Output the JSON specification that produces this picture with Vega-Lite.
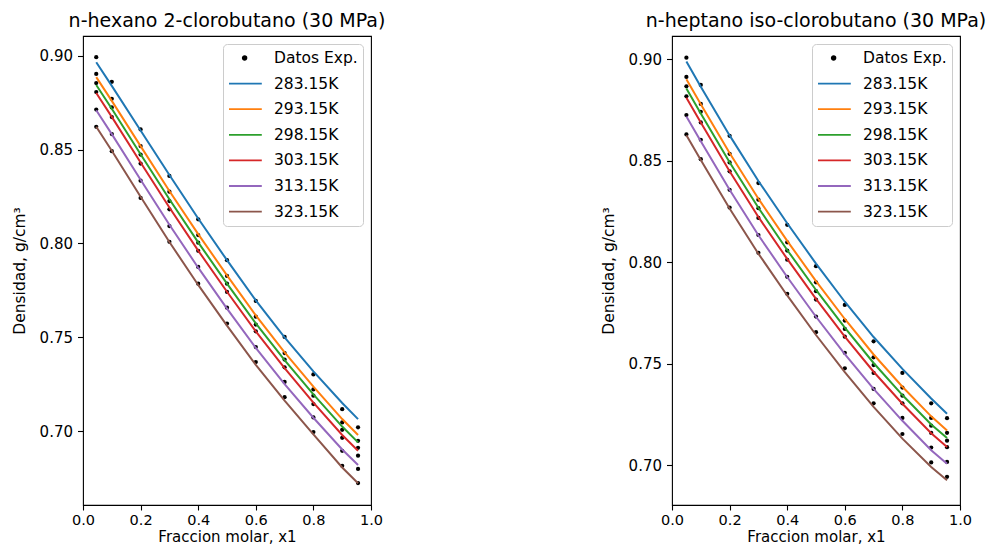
{
  "$schema": "https://vega.github.io/schema/vega-lite/v6.json",
  "padding": {"left": 11, "top": 11, "right": 0, "bottom": 0},
  "bounds": "flush",
  "spacing": 301,
  "config": {
    "font": "DejaVu Sans",
    "view": {"stroke": "black", "strokeWidth": 1.1},
    "axis": {"grid": false, "domain": false, "labelFlush": false, "tickColor": "black", "tickSize": 5.5, "tickWidth": 1.1, "labelColor": "black", "labelFontSize": 15, "titleFontSize": 15.5, "titleFontWeight": "normal", "titleColor": "black", "labelPadding": 5, "labelFont": "DejaVu Sans", "titleFont": "DejaVu Sans"},
    "axisY": {"titlePadding": 12},
    "axisX": {"titlePadding": 3, "labelPadding": 3, "tickSize": 5, "labelFontSize": 14.5, "titleFontSize": 15},
    "title": {"fontSize": 19, "fontWeight": "normal", "color": "black", "offset": 5, "font": "DejaVu Sans"},
    "legend": {"labelFont": "DejaVu Sans"}
  },
  "resolve": {"scale": {"color": "independent"}, "legend": {"color": "independent"}},
  "datasets": {
    "hx_exp": [
      {"x":0.046,"T":"283.15K","d":0.8993},{"x":0.046,"T":"293.15K","d":0.8904},{"x":0.046,"T":"298.15K","d":0.8855},{"x":0.046,"T":"303.15K","d":0.8807},{"x":0.046,"T":"313.15K","d":0.8714},{"x":0.046,"T":"323.15K","d":0.8622},
      {"x":0.1,"T":"283.15K","d":0.8862},{"x":0.1,"T":"293.15K","d":0.8771},{"x":0.1,"T":"298.15K","d":0.8725},{"x":0.1,"T":"303.15K","d":0.8674},{"x":0.1,"T":"313.15K","d":0.8583},{"x":0.1,"T":"323.15K","d":0.8492},
      {"x":0.2,"T":"283.15K","d":0.8608},{"x":0.2,"T":"293.15K","d":0.8519},{"x":0.2,"T":"298.15K","d":0.8474},{"x":0.2,"T":"303.15K","d":0.8426},{"x":0.2,"T":"313.15K","d":0.8335},{"x":0.2,"T":"323.15K","d":0.8243},
      {"x":0.3,"T":"283.15K","d":0.8360},{"x":0.3,"T":"293.15K","d":0.8276},{"x":0.3,"T":"298.15K","d":0.8226},{"x":0.3,"T":"303.15K","d":0.8182},{"x":0.3,"T":"313.15K","d":0.8093},{"x":0.3,"T":"323.15K","d":0.8009},
      {"x":0.4,"T":"283.15K","d":0.8129},{"x":0.4,"T":"293.15K","d":0.8045},{"x":0.4,"T":"298.15K","d":0.8004},{"x":0.4,"T":"303.15K","d":0.7961},{"x":0.4,"T":"313.15K","d":0.7875},{"x":0.4,"T":"323.15K","d":0.7786},
      {"x":0.5,"T":"283.15K","d":0.7911},{"x":0.5,"T":"293.15K","d":0.7827},{"x":0.5,"T":"298.15K","d":0.7786},{"x":0.5,"T":"303.15K","d":0.7742},{"x":0.5,"T":"313.15K","d":0.7658},{"x":0.5,"T":"323.15K","d":0.7573},
      {"x":0.6,"T":"283.15K","d":0.7694},{"x":0.6,"T":"293.15K","d":0.7610},{"x":0.6,"T":"298.15K","d":0.7568},{"x":0.6,"T":"303.15K","d":0.7532},{"x":0.6,"T":"313.15K","d":0.7448},{"x":0.6,"T":"323.15K","d":0.7368},
      {"x":0.7,"T":"283.15K","d":0.7502},{"x":0.7,"T":"293.15K","d":0.7416},{"x":0.7,"T":"298.15K","d":0.7381},{"x":0.7,"T":"303.15K","d":0.7340},{"x":0.7,"T":"313.15K","d":0.7262},{"x":0.7,"T":"323.15K","d":0.7181},
      {"x":0.8,"T":"283.15K","d":0.7302},{"x":0.8,"T":"293.15K","d":0.7222},{"x":0.8,"T":"298.15K","d":0.7189},{"x":0.8,"T":"303.15K","d":0.7144},{"x":0.8,"T":"313.15K","d":0.7073},{"x":0.8,"T":"323.15K","d":0.6995},
      {"x":0.9,"T":"283.15K","d":0.7117},{"x":0.9,"T":"293.15K","d":0.7046},{"x":0.9,"T":"298.15K","d":0.7007},{"x":0.9,"T":"303.15K","d":0.6964},{"x":0.9,"T":"313.15K","d":0.6895},{"x":0.9,"T":"323.15K","d":0.6815},
      {"x":0.955,"T":"283.15K","d":0.7020},{"x":0.955,"T":"293.15K","d":0.6948},{"x":0.955,"T":"298.15K","d":0.6911},{"x":0.955,"T":"303.15K","d":0.6869},{"x":0.955,"T":"313.15K","d":0.6798},{"x":0.955,"T":"323.15K","d":0.6723}
    ],
    "hx_fit": [
      {"x":0.046,"T":"283.15K","d":0.8966},{"x":0.1,"T":"283.15K","d":0.8840},{"x":0.2,"T":"283.15K","d":0.8602},{"x":0.3,"T":"283.15K","d":0.8365},{"x":0.4,"T":"283.15K","d":0.8133},{"x":0.5,"T":"283.15K","d":0.7911},{"x":0.6,"T":"283.15K","d":0.7697},{"x":0.7,"T":"283.15K","d":0.7500},{"x":0.8,"T":"283.15K","d":0.7318},{"x":0.9,"T":"283.15K","d":0.7150},{"x":0.955,"T":"283.15K","d":0.7064},
      {"x":0.046,"T":"293.15K","d":0.8887},{"x":0.1,"T":"293.15K","d":0.8760},{"x":0.2,"T":"293.15K","d":0.8519},{"x":0.3,"T":"293.15K","d":0.8280},{"x":0.4,"T":"293.15K","d":0.8050},{"x":0.5,"T":"293.15K","d":0.7830},{"x":0.6,"T":"293.15K","d":0.7617},{"x":0.7,"T":"293.15K","d":0.7420},{"x":0.8,"T":"293.15K","d":0.7237},{"x":0.9,"T":"293.15K","d":0.7064},{"x":0.955,"T":"293.15K","d":0.6979},
      {"x":0.046,"T":"298.15K","d":0.8845},{"x":0.1,"T":"298.15K","d":0.8718},{"x":0.2,"T":"298.15K","d":0.8476},{"x":0.3,"T":"298.15K","d":0.8236},{"x":0.4,"T":"298.15K","d":0.8006},{"x":0.5,"T":"298.15K","d":0.7786},{"x":0.6,"T":"298.15K","d":0.7574},{"x":0.7,"T":"298.15K","d":0.7378},{"x":0.8,"T":"298.15K","d":0.7196},{"x":0.9,"T":"298.15K","d":0.7024},{"x":0.955,"T":"298.15K","d":0.6940},
      {"x":0.046,"T":"303.15K","d":0.8802},{"x":0.1,"T":"303.15K","d":0.8675},{"x":0.2,"T":"303.15K","d":0.8432},{"x":0.3,"T":"303.15K","d":0.8192},{"x":0.4,"T":"303.15K","d":0.7962},{"x":0.5,"T":"303.15K","d":0.7743},{"x":0.6,"T":"303.15K","d":0.7531},{"x":0.7,"T":"303.15K","d":0.7336},{"x":0.8,"T":"303.15K","d":0.7152},{"x":0.9,"T":"303.15K","d":0.6979},{"x":0.955,"T":"303.15K","d":0.6895},
      {"x":0.046,"T":"313.15K","d":0.8710},{"x":0.1,"T":"313.15K","d":0.8583},{"x":0.2,"T":"313.15K","d":0.8340},{"x":0.3,"T":"313.15K","d":0.8100},{"x":0.4,"T":"313.15K","d":0.7871},{"x":0.5,"T":"313.15K","d":0.7653},{"x":0.6,"T":"313.15K","d":0.7443},{"x":0.7,"T":"313.15K","d":0.7250},{"x":0.8,"T":"313.15K","d":0.7071},{"x":0.9,"T":"313.15K","d":0.6902},{"x":0.955,"T":"313.15K","d":0.6819},
      {"x":0.046,"T":"323.15K","d":0.8622},{"x":0.1,"T":"323.15K","d":0.8494},{"x":0.2,"T":"323.15K","d":0.8249},{"x":0.3,"T":"323.15K","d":0.8008},{"x":0.4,"T":"323.15K","d":0.7779},{"x":0.5,"T":"323.15K","d":0.7562},{"x":0.6,"T":"323.15K","d":0.7353},{"x":0.7,"T":"323.15K","d":0.7162},{"x":0.8,"T":"323.15K","d":0.6982},{"x":0.9,"T":"323.15K","d":0.6806},{"x":0.955,"T":"323.15K","d":0.6722}
    ],
    "hp_exp": [
      {"x":0.05,"T":"283.15K","d":0.9008},{"x":0.05,"T":"293.15K","d":0.8913},{"x":0.05,"T":"298.15K","d":0.8867},{"x":0.05,"T":"303.15K","d":0.8818},{"x":0.05,"T":"313.15K","d":0.8725},{"x":0.05,"T":"323.15K","d":0.8630},
      {"x":0.1,"T":"283.15K","d":0.8874},{"x":0.1,"T":"293.15K","d":0.8780},{"x":0.1,"T":"298.15K","d":0.8741},{"x":0.1,"T":"303.15K","d":0.8689},{"x":0.1,"T":"313.15K","d":0.8603},{"x":0.1,"T":"323.15K","d":0.8508},
      {"x":0.2,"T":"283.15K","d":0.8623},{"x":0.2,"T":"293.15K","d":0.8534},{"x":0.2,"T":"298.15K","d":0.8492},{"x":0.2,"T":"303.15K","d":0.8448},{"x":0.2,"T":"313.15K","d":0.8357},{"x":0.2,"T":"323.15K","d":0.8269},
      {"x":0.3,"T":"283.15K","d":0.8390},{"x":0.3,"T":"293.15K","d":0.8308},{"x":0.3,"T":"298.15K","d":0.8266},{"x":0.3,"T":"303.15K","d":0.8218},{"x":0.3,"T":"313.15K","d":0.8134},{"x":0.3,"T":"323.15K","d":0.8046},
      {"x":0.4,"T":"283.15K","d":0.8184},{"x":0.4,"T":"293.15K","d":0.8098},{"x":0.4,"T":"298.15K","d":0.8057},{"x":0.4,"T":"303.15K","d":0.8012},{"x":0.4,"T":"313.15K","d":0.7928},{"x":0.4,"T":"323.15K","d":0.7844},
      {"x":0.5,"T":"283.15K","d":0.7980},{"x":0.5,"T":"293.15K","d":0.7901},{"x":0.5,"T":"298.15K","d":0.7857},{"x":0.5,"T":"303.15K","d":0.7816},{"x":0.5,"T":"313.15K","d":0.7732},{"x":0.5,"T":"323.15K","d":0.7655},
      {"x":0.6,"T":"283.15K","d":0.7789},{"x":0.6,"T":"293.15K","d":0.7712},{"x":0.6,"T":"298.15K","d":0.7671},{"x":0.6,"T":"303.15K","d":0.7633},{"x":0.6,"T":"313.15K","d":0.7553},{"x":0.6,"T":"323.15K","d":0.7477},
      {"x":0.7,"T":"283.15K","d":0.7610},{"x":0.7,"T":"293.15K","d":0.7531},{"x":0.7,"T":"298.15K","d":0.7493},{"x":0.7,"T":"303.15K","d":0.7454},{"x":0.7,"T":"313.15K","d":0.7375},{"x":0.7,"T":"323.15K","d":0.7304},
      {"x":0.8,"T":"283.15K","d":0.7454},{"x":0.8,"T":"293.15K","d":0.7382},{"x":0.8,"T":"298.15K","d":0.7342},{"x":0.8,"T":"303.15K","d":0.7304},{"x":0.8,"T":"313.15K","d":0.7232},{"x":0.8,"T":"323.15K","d":0.7153},
      {"x":0.9,"T":"283.15K","d":0.7304},{"x":0.9,"T":"293.15K","d":0.7232},{"x":0.9,"T":"298.15K","d":0.7194},{"x":0.9,"T":"303.15K","d":0.7158},{"x":0.9,"T":"313.15K","d":0.7086},{"x":0.9,"T":"323.15K","d":0.7013},
      {"x":0.955,"T":"283.15K","d":0.7231},{"x":0.955,"T":"293.15K","d":0.7159},{"x":0.955,"T":"298.15K","d":0.7120},{"x":0.955,"T":"303.15K","d":0.7088},{"x":0.955,"T":"313.15K","d":0.7015},{"x":0.955,"T":"323.15K","d":0.6942}
    ],
    "hp_fit": [
      {"x":0.05,"T":"283.15K","d":0.8989},{"x":0.1,"T":"283.15K","d":0.8865},{"x":0.2,"T":"283.15K","d":0.8625},{"x":0.3,"T":"283.15K","d":0.8400},{"x":0.4,"T":"283.15K","d":0.8192},{"x":0.5,"T":"283.15K","d":0.7993},{"x":0.6,"T":"283.15K","d":0.7805},{"x":0.7,"T":"283.15K","d":0.7631},{"x":0.8,"T":"283.15K","d":0.7474},{"x":0.9,"T":"283.15K","d":0.7328},{"x":0.955,"T":"283.15K","d":0.7253},
      {"x":0.05,"T":"293.15K","d":0.8902},{"x":0.1,"T":"293.15K","d":0.8778},{"x":0.2,"T":"293.15K","d":0.8538},{"x":0.3,"T":"293.15K","d":0.8313},{"x":0.4,"T":"293.15K","d":0.8105},{"x":0.5,"T":"293.15K","d":0.7907},{"x":0.6,"T":"293.15K","d":0.7720},{"x":0.7,"T":"293.15K","d":0.7545},{"x":0.8,"T":"293.15K","d":0.7386},{"x":0.9,"T":"293.15K","d":0.7240},{"x":0.955,"T":"293.15K","d":0.7170},
      {"x":0.05,"T":"298.15K","d":0.8856},{"x":0.1,"T":"298.15K","d":0.8733},{"x":0.2,"T":"298.15K","d":0.8493},{"x":0.3,"T":"298.15K","d":0.8268},{"x":0.4,"T":"298.15K","d":0.8060},{"x":0.5,"T":"298.15K","d":0.7863},{"x":0.6,"T":"298.15K","d":0.7677},{"x":0.7,"T":"298.15K","d":0.7503},{"x":0.8,"T":"298.15K","d":0.7345},{"x":0.9,"T":"298.15K","d":0.7200},{"x":0.955,"T":"298.15K","d":0.7133},
      {"x":0.05,"T":"303.15K","d":0.8811},{"x":0.1,"T":"303.15K","d":0.8688},{"x":0.2,"T":"303.15K","d":0.8448},{"x":0.3,"T":"303.15K","d":0.8223},{"x":0.4,"T":"303.15K","d":0.8016},{"x":0.5,"T":"303.15K","d":0.7819},{"x":0.6,"T":"303.15K","d":0.7633},{"x":0.7,"T":"303.15K","d":0.7460},{"x":0.8,"T":"303.15K","d":0.7302},{"x":0.9,"T":"303.15K","d":0.7157},{"x":0.955,"T":"303.15K","d":0.7089},
      {"x":0.05,"T":"313.15K","d":0.8718},{"x":0.1,"T":"313.15K","d":0.8596},{"x":0.2,"T":"313.15K","d":0.8357},{"x":0.3,"T":"313.15K","d":0.8133},{"x":0.4,"T":"313.15K","d":0.7927},{"x":0.5,"T":"313.15K","d":0.7731},{"x":0.6,"T":"313.15K","d":0.7547},{"x":0.7,"T":"313.15K","d":0.7375},{"x":0.8,"T":"313.15K","d":0.7218},{"x":0.9,"T":"313.15K","d":0.7073},{"x":0.955,"T":"313.15K","d":0.7006},
      {"x":0.05,"T":"323.15K","d":0.8626},{"x":0.1,"T":"323.15K","d":0.8504},{"x":0.2,"T":"323.15K","d":0.8265},{"x":0.3,"T":"323.15K","d":0.8042},{"x":0.4,"T":"323.15K","d":0.7836},{"x":0.5,"T":"323.15K","d":0.7641},{"x":0.6,"T":"323.15K","d":0.7458},{"x":0.7,"T":"323.15K","d":0.7287},{"x":0.8,"T":"323.15K","d":0.7130},{"x":0.9,"T":"323.15K","d":0.6990},{"x":0.955,"T":"323.15K","d":0.6925}
    ]
  },
  "hconcat": [
    {
      "title": "n-hexano 2-clorobutano (30 MPa)",
      "width": 288,
      "height": 469,
      "layer": [
        {
          "data": {"name": "hx_exp"},
          "mark": {"type": "point", "filled": true, "size": 18, "opacity": 1},
          "encoding": {
            "x": {"field": "x", "type": "quantitative", "scale": {"domain": [0, 1], "nice": false, "zero": false}, "axis": {"title": "Fraccion molar, x1", "values": [0, 0.2, 0.4, 0.6, 0.8, 1.0], "format": ".1f"}},
            "y": {"field": "d", "type": "quantitative", "scale": {"domain": [0.6606, 0.9106], "nice": false, "zero": false}, "axis": {"title": "Densidad, g/cm³", "values": [0.70, 0.75, 0.80, 0.85, 0.90], "format": ".2f"}},
            "color": {
              "datum": "Datos Exp.", "type": "nominal",
              "scale": {"domain": ["Datos Exp.", "283.15K", "293.15K", "298.15K", "303.15K", "313.15K", "323.15K"], "range": ["black", "#1f77b4", "#ff7f0e", "#2ca02c", "#d62728", "#9467bd", "#8c564b"]},
              "legend": {
                "title": null, "orient": "top-right", "offset": 8,
                "symbolSize": 256, "symbolType": "M-1,0L3.1,0", "symbolStrokeWidth": 1.8,
                "labelFontSize": 15.5, "labelColor": "black", "labelOffset": 28, "rowPadding": 7.6,
                "padding": 5, "fillColor": "rgba(255,255,255,0.8)", "strokeColor": "#cccccc", "cornerRadius": 4,
                "encode": {"symbols": {"update": {
                  "shape": [{"test": "datum.value === 'Datos Exp.'", "value": "M0.72,0A0.23,0.23,0,1,1,1.18,0A0.23,0.23,0,1,1,0.72,0Z"}, {"value": "M-1,0L3.1,0"}],
                  "fill": [{"test": "datum.value === 'Datos Exp.'", "value": "black"}, {"value": "transparent"}],
                  "stroke": [{"test": "datum.value === '283.15K'", "value": "#1f77b4"}, {"test": "datum.value === '293.15K'", "value": "#ff7f0e"}, {"test": "datum.value === '298.15K'", "value": "#2ca02c"}, {"test": "datum.value === '303.15K'", "value": "#d62728"}, {"test": "datum.value === '313.15K'", "value": "#9467bd"}, {"test": "datum.value === '323.15K'", "value": "#8c564b"}, {"value": "transparent"}],
                  "opacity": {"value": 1}
                }}}
              }
            }
          }
        },
        {
          "data": {"name": "hx_fit"},
          "mark": {"type": "line", "strokeWidth": 2},
          "encoding": {
            "x": {"field": "x", "type": "quantitative"},
            "y": {"field": "d", "type": "quantitative"},
            "color": {
              "field": "T", "type": "nominal",
              "legend": {
                "title": null, "orient": "top-right", "offset": 8,
                "symbolSize": 256, "symbolType": "M-1,0L3.1,0", "symbolStrokeWidth": 1.8,
                "labelFontSize": 15.5, "labelColor": "black", "labelOffset": 28, "rowPadding": 7.6,
                "padding": 5, "fillColor": "rgba(255,255,255,0.8)", "strokeColor": "#cccccc", "cornerRadius": 4,
                "encode": {"symbols": {"update": {
                  "shape": [{"test": "datum.value === 'Datos Exp.'", "value": "M0.72,0A0.23,0.23,0,1,1,1.18,0A0.23,0.23,0,1,1,0.72,0Z"}, {"value": "M-1,0L3.1,0"}],
                  "fill": [{"test": "datum.value === 'Datos Exp.'", "value": "black"}, {"value": "transparent"}],
                  "stroke": [{"test": "datum.value === '283.15K'", "value": "#1f77b4"}, {"test": "datum.value === '293.15K'", "value": "#ff7f0e"}, {"test": "datum.value === '298.15K'", "value": "#2ca02c"}, {"test": "datum.value === '303.15K'", "value": "#d62728"}, {"test": "datum.value === '313.15K'", "value": "#9467bd"}, {"test": "datum.value === '323.15K'", "value": "#8c564b"}, {"value": "transparent"}],
                  "opacity": {"value": 1}
                }}}
              }
            }
          }
        }
      ]
    },
    {
      "title": "n-heptano iso-clorobutano (30 MPa)",
      "width": 288,
      "height": 469,
      "layer": [
        {
          "data": {"name": "hp_exp"},
          "mark": {"type": "point", "filled": true, "size": 18, "opacity": 1},
          "encoding": {
            "x": {"field": "x", "type": "quantitative", "scale": {"domain": [0, 1], "nice": false, "zero": false}, "axis": {"title": "Fraccion molar, x1", "values": [0, 0.2, 0.4, 0.6, 0.8, 1.0], "format": ".1f"}},
            "y": {"field": "d", "type": "quantitative", "scale": {"domain": [0.6803, 0.9115], "nice": false, "zero": false}, "axis": {"title": "Densidad, g/cm³", "values": [0.70, 0.75, 0.80, 0.85, 0.90], "format": ".2f"}},
            "color": {
              "datum": "Datos Exp.", "type": "nominal",
              "scale": {"domain": ["Datos Exp.", "283.15K", "293.15K", "298.15K", "303.15K", "313.15K", "323.15K"], "range": ["black", "#1f77b4", "#ff7f0e", "#2ca02c", "#d62728", "#9467bd", "#8c564b"]},
              "legend": {
                "title": null, "orient": "top-right", "offset": 8,
                "symbolSize": 256, "symbolType": "M-1,0L3.1,0", "symbolStrokeWidth": 1.8,
                "labelFontSize": 15.5, "labelColor": "black", "labelOffset": 28, "rowPadding": 7.6,
                "padding": 5, "fillColor": "rgba(255,255,255,0.8)", "strokeColor": "#cccccc", "cornerRadius": 4,
                "encode": {"symbols": {"update": {
                  "shape": [{"test": "datum.value === 'Datos Exp.'", "value": "M0.72,0A0.23,0.23,0,1,1,1.18,0A0.23,0.23,0,1,1,0.72,0Z"}, {"value": "M-1,0L3.1,0"}],
                  "fill": [{"test": "datum.value === 'Datos Exp.'", "value": "black"}, {"value": "transparent"}],
                  "stroke": [{"test": "datum.value === '283.15K'", "value": "#1f77b4"}, {"test": "datum.value === '293.15K'", "value": "#ff7f0e"}, {"test": "datum.value === '298.15K'", "value": "#2ca02c"}, {"test": "datum.value === '303.15K'", "value": "#d62728"}, {"test": "datum.value === '313.15K'", "value": "#9467bd"}, {"test": "datum.value === '323.15K'", "value": "#8c564b"}, {"value": "transparent"}],
                  "opacity": {"value": 1}
                }}}
              }
            }
          }
        },
        {
          "data": {"name": "hp_fit"},
          "mark": {"type": "line", "strokeWidth": 2},
          "encoding": {
            "x": {"field": "x", "type": "quantitative"},
            "y": {"field": "d", "type": "quantitative"},
            "color": {
              "field": "T", "type": "nominal",
              "legend": {
                "title": null, "orient": "top-right", "offset": 8,
                "symbolSize": 256, "symbolType": "M-1,0L3.1,0", "symbolStrokeWidth": 1.8,
                "labelFontSize": 15.5, "labelColor": "black", "labelOffset": 28, "rowPadding": 7.6,
                "padding": 5, "fillColor": "rgba(255,255,255,0.8)", "strokeColor": "#cccccc", "cornerRadius": 4,
                "encode": {"symbols": {"update": {
                  "shape": [{"test": "datum.value === 'Datos Exp.'", "value": "M0.72,0A0.23,0.23,0,1,1,1.18,0A0.23,0.23,0,1,1,0.72,0Z"}, {"value": "M-1,0L3.1,0"}],
                  "fill": [{"test": "datum.value === 'Datos Exp.'", "value": "black"}, {"value": "transparent"}],
                  "stroke": [{"test": "datum.value === '283.15K'", "value": "#1f77b4"}, {"test": "datum.value === '293.15K'", "value": "#ff7f0e"}, {"test": "datum.value === '298.15K'", "value": "#2ca02c"}, {"test": "datum.value === '303.15K'", "value": "#d62728"}, {"test": "datum.value === '313.15K'", "value": "#9467bd"}, {"test": "datum.value === '323.15K'", "value": "#8c564b"}, {"value": "transparent"}],
                  "opacity": {"value": 1}
                }}}
              }
            }
          }
        }
      ]
    }
  ]
}
